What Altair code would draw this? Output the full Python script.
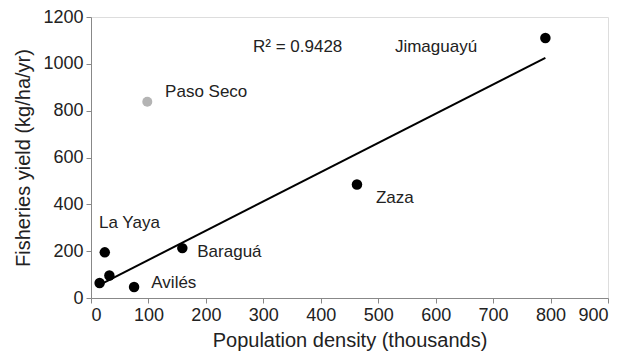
import altair as alt
import pandas as pd

# Data
pop_density = [15, 24, 32, 75, 159, 463, 791]
fish_yield = [64, 195, 96, 47, 213, 485, 1110]

outlier_x = [98]
outlier_y = [838]

label_text = ["Paso Seco", "Jimaguayú", "La Yaya", "Baraguá", "Avilés", "Zaza", "R² = 0.9428"]
label_x = [129, 529, 14, 185, 105, 496, 282]
label_y = [880, 1071, 322, 198, 64, 428, 1071]

pts = pd.DataFrame({"x": pop_density, "y": fish_yield})
out = pd.DataFrame({"x": outlier_x, "y": outlier_y})
labs = pd.DataFrame({"x": label_x, "y": label_y, "t": label_text})

xscale = alt.Scale(domain=[0, 900], nice=False, zero=True)
yscale = alt.Scale(domain=[0, 1200], nice=False)

common = dict(grid=False, labelFontSize=18, titleFontSize=20, titleFontWeight="normal",
              labelColor="#222", titleColor="#222", domainColor="#888", tickColor="#888",
              tickSize=5, labelFont="Liberation Sans", titleFont="Liberation Sans", format="d")

xenc = alt.X("x:Q", scale=xscale,
             axis=alt.Axis(title="Population density (thousands)", values=list(range(0, 901, 100)),
                           labelPadding=3, titlePadding=6, **common))
yenc = alt.Y("y:Q", scale=yscale,
             axis=alt.Axis(title="Fisheries yield (kg/ha/yr)", values=list(range(0, 1201, 200)),
                           labelPadding=3, titlePadding=9, **common))

points = alt.Chart(pts).mark_circle(size=110, color="black", opacity=1).encode(x=xenc, y=yenc)
outlier = alt.Chart(out).mark_circle(size=100, color="#b4b4b4", opacity=1).encode(x="x:Q", y="y:Q")
line = alt.Chart(pts).transform_regression("x", "y").mark_line(color="black", strokeWidth=2).encode(
    x="x:Q", y="y:Q")
text = alt.Chart(labs).mark_text(align="left", baseline="middle", fontSize=17,
                                 font="Liberation Sans", color="#222").encode(
    x="x:Q", y="y:Q", text="t:N")

chart = alt.layer(line, points, outlier, text).properties(
    width=517, height=281,
    autosize=alt.AutoSizeParams(type="none"),
    padding={"left": 83, "top": 9, "right": 10, "bottom": 62},
).configure_view(stroke="#999", strokeWidth=1).configure(background="white")

chart.save("out.html", embed_options={"renderer": "svg", "actions": False})
